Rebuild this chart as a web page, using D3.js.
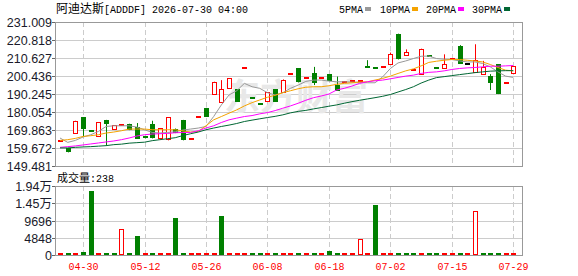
<!DOCTYPE html>
<html><head><meta charset="utf-8">
<script src="https://cdn.jsdelivr.net/npm/d3@7"></script>
<style>body{margin:0;background:#fff}svg{display:block}</style>
</head><body><svg id="c" width="578" height="276"></svg>
<script>
const stockName = "阿迪达斯";
const headerInfo = "[ADDDF] 2026-07-30 04:00";
const maNames = ["5PMA", "10PMA", "20PMA", "30PMA"];
const volTitle = "成交量:238";
const watermark = "东方财富";
const priceTicks = [149.481, 159.672, 169.863, 180.054, 190.245, 200.436, 210.627, 220.818, 231.009];
const volTicks = [0, 4848, 9696, 14544, 19392];
const volTickLabels = ["0", "4848", "9696", "1.45万", "1.94万"];
const dateLabels = ["04-30", "05-12", "05-26", "06-08", "06-18", "07-02", "07-15", "07-29"];
const dateIndex = [3, 11, 19, 27, 35, 43, 51, 59];

const opens = [163.4,159.7,168.1,177.1,169.4,166.5,175.6,170.5,172.8,173.4,171.7,166.3,173.4,165.4,164.8,170.7,175.6,164.8,177.1,182.4,
  190.2,185.6,193.4,193.0,204.7,188.0,184.4,186.1,193.0,191.5,201.5,204.7,199.2,202.4,199.1,201.5,195.3,197.2,197.4,197.8,
  205.3,204.9,205.3,207.0,224.4,212.6,203.8,201.5,212.0,204.7,204.7,210.1,217.2,207.1,202.8,201.3,200.4,207.1,196.4,201.9];
const highs = [163.4,159.7,175.1,177.1,169.4,174.3,175.6,172.6,172.8,173.4,173.8,166.3,175.1,171.0,177.1,170.7,175.6,164.8,177.1,182.4,
  197.2,198.1,199.1,193.0,204.7,188.0,184.4,191.2,193.0,198.5,201.5,204.7,199.2,205.6,199.1,201.5,200.1,197.2,197.4,197.8,
  209.4,204.9,205.3,213.7,224.4,215.5,203.8,215.9,212.0,204.7,212.7,210.1,217.9,207.1,218.4,209.0,201.5,207.1,196.4,206.0];
const lows = [163.4,157.2,168.1,166.2,169.4,166.5,161.0,170.5,172.8,169.8,164.9,165.2,165.1,165.4,164.0,168.1,164.0,164.8,177.1,177.5,
  190.2,185.6,193.4,185.9,204.7,188.0,184.4,186.1,185.9,191.5,201.5,196.8,199.2,195.3,199.1,197.5,192.1,197.2,197.4,197.8,
  205.3,204.9,205.3,207.0,209.8,212.6,203.8,201.5,212.0,204.7,204.7,210.1,207.5,207.1,202.8,201.3,192.5,190.2,196.4,201.9];
const closes = [163.4,157.2,175.1,170.7,169.4,174.3,173.5,172.6,172.8,169.8,164.9,165.2,165.1,171.0,177.1,168.1,164.0,164.8,177.1,177.5,
  197.2,193.0,199.1,185.9,204.7,188.0,184.4,191.2,185.9,197.9,201.5,196.8,199.2,196.3,199.1,197.5,192.1,197.2,197.4,197.8,
  205.3,204.9,205.3,213.1,209.8,214.0,203.8,215.9,212.0,204.7,207.5,210.1,207.5,207.1,209.7,205.6,196.6,190.2,196.4,206.0];
const volumes = [120,150,100,900,18000,80,100,120,7300,150,5450,100,120,90,150,10300,200,100,120,80,
  150,11100,100,90,80,120,100,150,100,120,90,150,100,120,90,1000,150,100,120,4450,
  100,14150,120,100,150,120,100,90,110,130,120,100,140,90,12430,110,130,150,100,238];
// volume colour: 1 = up day (red), -1 = down day (green), read from the volume strip
const dayDir = [1,-1,1,-1,-1,1,-1,-1,1,-1,-1,1,-1,1,1,-1,-1,1,1,1,
  1,-1,1,1,1,-1,-1,1,-1,1,1,-1,1,-1,1,-1,-1,1,1,1,
  1,-1,1,1,-1,-1,-1,1,-1,-1,1,1,-1,1,1,-1,-1,-1,1,1];
// colour of flat (open == close) candles: 1 red, -1 green, 0 black
const dojiDir = [1,-1,1,-1,-1,1,-1,-1,1,-1,-1,1,-1,1,1,-1,-1,1,1,1,
  1,-1,1,1,1,-1,-1,1,-1,1,1,-1,1,-1,1,-1,-1,1,1,1,
  -1,-1,1,1,-1,-1,1,1,-1,-1,1,1,-1,0,1,-1,-1,-1,1,1];

const ma5 = [165.33,162.86,163.98,165.89,167.19,169.05,171.86,172.25,172.25,172.25,171.52,170.0,168.48,168.15,168.48,168.88,169.83,170.40,170.96,171.86,
  177.48,184.06,189.68,192.10,196.26,194.35,193.45,190.98,189.68,190.98,193.45,195.30,197.38,198.12,198.12,197.55,197.16,197.16,196.99,196.82,
  196.60,196.60,199.97,204.69,207.84,208.97,210.32,211.61,211.72,210.32,209.92,209.76,208.97,208.41,208.41,207.51,205.60,202.78,200.37,199.63];
const ma10 = [163.98,164.38,165.11,166.23,166.63,167.19,168.15,168.71,169.44,170.40,170.40,170.40,170.0,170.0,170.0,170.0,169.33,168.71,169.05,172.25,
  175.62,177.48,179.39,181.25,183.50,185.35,186.87,188.39,189.51,190.98,192.10,193.22,194.07,194.35,194.35,194.91,195.70,196.26,196.60,196.99,
  197.16,198.12,199.07,200.37,201.88,203.34,204.47,206.16,208.13,208.80,209.36,209.76,209.76,209.36,208.97,208.41,206.94,205.26,203.74,203.34];
const ma20 = [160.05,160.44,160.84,161.40,161.96,162.52,163.09,163.65,164.38,165.33,166.46,167.19,167.58,167.75,167.92,168.31,168.43,168.48,169.44,170.96,
  172.25,174.11,175.62,176.58,177.48,178.04,179.0,179.73,180.85,182.20,183.50,185.01,186.70,188.16,189.12,190.24,192.49,193.45,194.74,196.26,
  197.16,197.72,198.12,198.85,199.63,200.37,200.93,201.88,202.50,202.78,203.34,204.13,204.69,205.03,205.26,205.60,205.99,205.99,206.16,206.38];
const ma30 = [159.71,159.71,160.05,160.27,160.44,160.72,161.0,161.57,161.85,162.41,162.69,162.97,163.82,164.38,164.94,165.5,166.74,167.75,168.71,170.0,
  170.96,171.86,172.64,173.54,174.67,175.45,176.19,176.92,177.59,178.44,179.56,180.41,180.97,181.81,182.54,183.33,184.06,185.01,185.91,186.70,
  187.43,188.16,188.95,189.96,191.37,192.77,194.35,196.43,198.12,199.52,200.08,200.65,201.21,201.77,202.33,202.78,203.17,203.34,203.46,203.46];

const RED = "#ff0000", GREEN = "#008000", BLACK = "#000000";
const maColors = ["#999999", "#f5a300", "#ff00ff", "#006633"];
const X0 = 55, X1 = 522, PT = 22, PB = 166, VT = 186, VB = 255;
const svg = d3.select("#c");
const x = d3.scaleLinear().domain([0, 59]).range([60, 513.3]);
const y = d3.scaleLinear().domain([priceTicks[0], priceTicks[priceTicks.length - 1]]).range([PB, PT]);
const yv = d3.scaleLinear().domain([0, volTicks[volTicks.length - 1]]).range([VB, VT]);
const px = v => Math.round(v);
const numFont = "'Liberation Sans', Arial, 'Noto Sans CJK SC', sans-serif";
const monoFont = "'Liberation Mono', 'DejaVu Sans Mono', monospace";
const cjkFont = "'Noto Sans CJK SC', sans-serif";

// grids
const g = svg.append("g");
priceTicks.slice(1, -1).forEach(t => {
  g.append("line").attr("x1", X0).attr("x2", X1).attr("y1", px(y(t)) + 0.5).attr("y2", px(y(t)) + 0.5)
    .attr("stroke", "#cccccc");
});
volTicks.slice(1, -1).forEach(t => {
  g.append("line").attr("x1", X0).attr("x2", X1).attr("y1", px(yv(t)) + 0.5).attr("y2", px(yv(t)) + 0.5)
    .attr("stroke", "#cccccc");
});
dateIndex.forEach(i => {
  const xx = px(x(i)) + 0.5;
  g.append("line").attr("x1", xx).attr("x2", xx).attr("y1", PT).attr("y2", PB).attr("stroke", "#cccccc").attr("stroke-dasharray", "5,3");
  g.append("line").attr("x1", xx).attr("x2", xx).attr("y1", VT).attr("y2", VB).attr("stroke", "#cccccc").attr("stroke-dasharray", "5,3");
});

// watermark
svg.append("text").attr("x", 224).attr("y", 110).attr("font-family", cjkFont).attr("font-weight", "bold")
  .attr("font-size", 36).attr("fill", "#e8e8e8").text(watermark);

// candles
const cg = svg.append("g");
closes.forEach((c, i) => {
  const o = opens[i], cx = px(x(i));
  if (c > o) {
    cg.append("line").attr("x1", cx + 0.5).attr("x2", cx + 0.5).attr("y1", y(highs[i])).attr("y2", y(lows[i])).attr("stroke", RED);
    const top = px(y(c)), bot = px(y(o));
    cg.append("rect").attr("x", cx - 1.5).attr("y", top + 0.5).attr("width", 4).attr("height", Math.max(1, bot - top))
      .attr("fill", "#fff").attr("stroke", RED);
  } else if (c < o) {
    cg.append("line").attr("x1", cx + 0.5).attr("x2", cx + 0.5).attr("y1", y(highs[i])).attr("y2", y(lows[i])).attr("stroke", GREEN);
    const top = px(y(o)), bot = px(y(c));
    cg.append("rect").attr("x", cx - 2).attr("y", top).attr("width", 5).attr("height", Math.max(1, bot - top)).attr("fill", GREEN);
  } else {
    const col = dojiDir[i] > 0 ? RED : (dojiDir[i] < 0 ? GREEN : BLACK);
    if (highs[i] > c || lows[i] < c)
      cg.append("line").attr("x1", cx + 0.5).attr("x2", cx + 0.5).attr("y1", y(highs[i])).attr("y2", y(lows[i])).attr("stroke", col);
    cg.append("rect").attr("x", cx - 2).attr("y", px(y(c)) - 1).attr("width", 5).attr("height", 2).attr("fill", col);
  }
});

// moving averages
[ma5, ma10, ma20, ma30].forEach((arr, k) => {
  svg.append("path").datum(arr)
    .attr("d", d3.line().x((d, i) => x(i)).y(d => y(d)))
    .attr("fill", "none").attr("stroke", maColors[k]).attr("stroke-width", 1);
});

// volume bars
const vg = svg.append("g");
volumes.forEach((v, i) => {
  const cx = px(x(i)), top = px(yv(v)), h = VB - top;
  const col = dayDir[i] > 0 ? RED : GREEN;
  if (h <= 2) {
    vg.append("rect").attr("x", cx - 2).attr("y", VB - 2).attr("width", 5).attr("height", 2).attr("fill", col);
  } else if (dayDir[i] > 0) {
    vg.append("rect").attr("x", cx - 1.5).attr("y", top + 0.5).attr("width", 4).attr("height", h - 1)
      .attr("fill", "#fff").attr("stroke", col);
  } else {
    vg.append("rect").attr("x", cx - 2).attr("y", top).attr("width", 5).attr("height", h).attr("fill", col);
  }
});

// borders
svg.append("rect").attr("x", X0 + 0.5).attr("y", PT + 0.5).attr("width", X1 - X0).attr("height", PB - PT)
  .attr("fill", "none").attr("stroke", "#999999");
svg.append("rect").attr("x", X0 + 0.5).attr("y", VT + 0.5).attr("width", X1 - X0).attr("height", VB - VT)
  .attr("fill", "none").attr("stroke", "#999999");

// axis labels + ticks
priceTicks.forEach(t => {
  const yy = px(y(t)) + 0.5;
  svg.append("line").attr("x1", X0 - 3).attr("x2", X0).attr("y1", yy).attr("y2", yy).attr("stroke", "#666");
  svg.append("text").attr("x", 52).attr("y", yy + 4.5).attr("text-anchor", "end")
    .attr("font-family", numFont).attr("font-size", 12.5).attr("fill", "#1a1a2a").text(t.toFixed(3));
});
volTicks.forEach((t, k) => {
  const yy = px(yv(t)) + 0.5;
  svg.append("line").attr("x1", X0 - 3).attr("x2", X0).attr("y1", yy).attr("y2", yy).attr("stroke", "#666");
  svg.append("text").attr("x", 52).attr("y", yy + 4.5).attr("text-anchor", "end")
    .attr("font-family", numFont).attr("font-size", 12.5).attr("fill", "#1a1a2a").text(volTickLabels[k]);
});
dateIndex.forEach((i, k) => {
  svg.append("text").attr("x", px(x(i)) + 0.5).attr("y", 270).attr("text-anchor", "middle")
    .attr("font-family", monoFont).attr("font-size", 10).attr("fill", RED).text(dateLabels[k]);
});

// header
const ht = svg.append("text").attr("x", 56).attr("y", 13).attr("fill", "#000");
ht.append("tspan").attr("font-family", cjkFont).attr("font-size", 12).text(stockName);
ht.append("tspan").attr("font-family", monoFont).attr("font-size", 10).text(headerInfo);

// legend
const legX = [339, 380, 426, 472];
maNames.forEach((n, k) => {
  const t = svg.append("text").attr("x", legX[k]).attr("y", 13).attr("font-family", monoFont).attr("font-size", 10)
    .attr("fill", "#000").text(n);
  const w = t.node().getComputedTextLength();
  svg.append("rect").attr("x", legX[k] + w + 2).attr("y", 7).attr("width", 6).attr("height", 4).attr("fill", maColors[k]);
});

// volume title
const vt = svg.append("text").attr("x", 57).attr("y", 182).attr("fill", "#000");
vt.append("tspan").attr("font-family", cjkFont).attr("font-size", 11).text(volTitle.split(":")[0]);
vt.append("tspan").attr("font-family", monoFont).attr("font-size", 10).text(":" + volTitle.split(":")[1]);
</script></body></html>
